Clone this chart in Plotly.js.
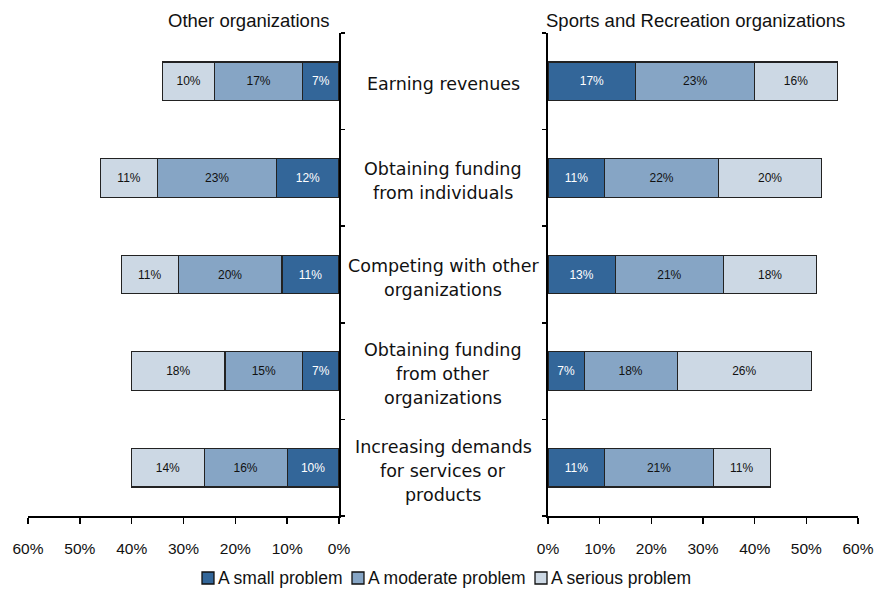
<!DOCTYPE html>
<html>
<head>
<meta charset="utf-8">
<script src="https://cdn.plot.ly/plotly-3.0.1.min.js"></script>
<style>html,body{margin:0;padding:0;background:#fff;}</style>
</head>
<body>
<div id="chart" style="width:881px;height:590px;"></div>
<script>
// ---- data ----
const categoryKeys = ["Earning revenues", "Obtaining funding from individuals", "Competing with other organizations", "Obtaining funding from other organizations", "Increasing demands for services or products"];
const categoryLabels = ["Earning revenues", "Obtaining funding<br>from individuals", "Competing with other<br>organizations", "Obtaining funding<br>from other<br>organizations", "Increasing demands<br>for services or<br>products"];
const seriesNames = ["A small problem", "A moderate problem", "A serious problem"];
const otherSmall = [7, 12, 11, 7, 10];
const otherModerate = [17, 23, 20, 15, 16];
const otherSerious = [10, 11, 11, 18, 14];
const sportsSmall = [17, 11, 13, 7, 11];
const sportsModerate = [23, 22, 21, 18, 21];
const sportsSerious = [16, 20, 18, 26, 11];
const xTickVals = [0, 10, 20, 30, 40, 50, 60];
const xTickText = ["0%", "10%", "20%", "30%", "40%", "50%", "60%"];
const panelTitles = ["Other organizations", "Sports and Recreation organizations"];

const colors = ["#336699", "#86A5C5", "#CCD8E4"];
const textColors = ["#ffffff", "#111111", "#111111"];
const font = "Liberation Sans, Arial, sans-serif";
const labelFont = "DejaVu Sans, Liberation Sans, sans-serif";

// plot-area geometry (pixels) used to place the hand-drawn legend
const M = {l: 28, r: 23, t: 33, b: 74};
const PW = 881 - M.l - M.r, PH = 590 - M.t - M.b;
const px = x => (x - M.l) / PW;
const py = y => (590 - M.b - y) / PH;

function mk(vals, i, xa, ya) {
  return {
    type: "bar", orientation: "h",
    x: vals, y: categoryKeys,
    xaxis: xa, yaxis: ya,
    name: seriesNames[i], showlegend: false,
    marker: {color: colors[i], line: {color: "#222222", width: 1.3}},
    text: vals.map(v => v + "%"),
    textposition: "inside", insidetextanchor: "middle", textangle: 0,
    constraintext: "none",
    textfont: {family: font, size: 12, color: textColors[i]},
    hoverinfo: "skip"
  };
}

const data = [
  mk(otherSmall, 0, "x", "y"),
  mk(otherModerate, 1, "x", "y"),
  mk(otherSerious, 2, "x", "y"),
  mk(sportsSmall, 0, "x2", "y2"),
  mk(sportsModerate, 1, "x2", "y2"),
  mk(sportsSerious, 2, "x2", "y2")
];

const xCommon = {
  range: [0, 60], tickvals: xTickVals, ticktext: xTickText,
  showline: true, linecolor: "#000", linewidth: 2,
  ticks: "outside", ticklen: 6, tickwidth: 1.5, tickcolor: "#000",
  showgrid: false, zeroline: false, fixedrange: true,
  ticklabelstandoff: 11, automargin: false,
  tickfont: {family: font, size: 15.5, color: "#111"}
};
const yCommon = {
  type: "category", categoryorder: "array", categoryarray: categoryKeys.slice().reverse(),
  showline: true, linecolor: "#000", linewidth: 2,
  ticks: "outside", tickson: "boundaries", ticklen: 4, tickwidth: 1.5, tickcolor: "#000",
  showticklabels: false, showgrid: false, zeroline: false, fixedrange: true, automargin: false
};

const annotations = [];
const lineStep = 24;
categoryKeys.forEach((k, i) => {
  const lines = categoryLabels[i].split("<br>");
  lines.forEach((ln, j) => {
    const off = (j - (lines.length - 1) / 2) * lineStep;
    annotations.push({
      xref: "paper", yref: "y", x: 0.5, y: k, text: ln,
      showarrow: false, xanchor: "center", yanchor: "middle", align: "center",
      yshift: -off - 3,
      font: {family: labelFont, size: 17.5, color: "#111"}
    });
  });
});
annotations.push({
  xref: "paper", yref: "paper", x: px(331), y: 1, yshift: 13,
  text: panelTitles[0], showarrow: false, xanchor: "right", yanchor: "middle",
  font: {family: font, size: 18.5, color: "#111"}
});
annotations.push({
  xref: "paper", yref: "paper", x: px(544), y: 1, yshift: 13,
  text: panelTitles[1], showarrow: false, xanchor: "left", yanchor: "middle",
  font: {family: font, size: 18.5, color: "#111"}
});

// compact legend: square swatches + labels
const legendSquareX = [202, 352, 535];
const legendY = 578;
const shapes = [];
seriesNames.forEach((n, i) => {
  const x0 = legendSquareX[i];
  shapes.push({
    type: "rect", xref: "paper", yref: "paper",
    x0: px(x0), x1: px(x0 + 12), y0: py(legendY + 6), y1: py(legendY - 6),
    fillcolor: colors[i], line: {color: "#111", width: 1.3}
  });
  annotations.push({
    xref: "paper", yref: "paper", x: px(x0 + 14), y: py(legendY),
    text: n, showarrow: false, xanchor: "left", yanchor: "middle",
    font: {family: font, size: 17.5, color: "#111"}
  });
});

const layout = {
  width: 881, height: 590,
  margin: {l: M.l, r: M.r, t: M.t, b: M.b, autoexpand: false},
  paper_bgcolor: "#fff", plot_bgcolor: "#fff",
  barmode: "stack", bargap: 0.6,
  showlegend: false,
  xaxis: Object.assign({}, xCommon, {domain: [0, 311 / 830], anchor: "y", autorange: false, range: [60, 0]}),
  xaxis2: Object.assign({}, xCommon, {domain: [520 / 830, 1], anchor: "y2"}),
  yaxis: Object.assign({}, yCommon, {anchor: "x", side: "right"}),
  yaxis2: Object.assign({}, yCommon, {anchor: "x2", side: "left"}),
  annotations: annotations,
  shapes: shapes
};

Plotly.newPlot("chart", data, layout, {displayModeBar: false, staticPlot: true});
</script>
</body>
</html>
